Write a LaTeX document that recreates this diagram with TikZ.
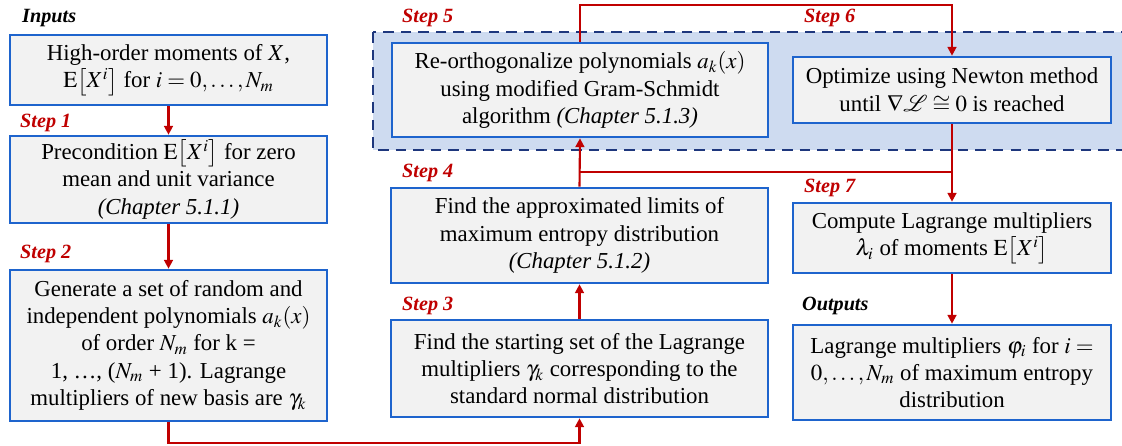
\documentclass[tikz,border=0pt]{standalone}
\usepackage{mathptmx}
\usepackage{fontspec}
\setmainfont{Liberation Serif}
\usetikzlibrary{arrows.meta}
\definecolor{boxblue}{RGB}{30,100,205}
\definecolor{dashblue}{RGB}{30,55,125}
\definecolor{regionblue}{RGB}{206,219,240}
\definecolor{boxgray}{RGB}{242,242,242}
\definecolor{steprd}{RGB}{192,0,0}
\tikzset{
  box/.style={draw=boxblue,line width=1.5pt,fill=boxgray,align=center,inner sep=2pt,
    font=\fontsize{13}{15.6}\selectfont},
  steplabel/.style={anchor=west,text=steprd,font=\fontsize{11.5}{13}\selectfont\bfseries\itshape},
  iolabel/.style={anchor=west,font=\fontsize{11.5}{13}\selectfont\bfseries\itshape},
  flow/.style={draw=steprd,line width=1.2pt,-{Triangle[length=5pt,width=5pt]}},
  link/.style={draw=steprd,line width=1.2pt}
}
\begin{document}
\begin{tikzpicture}[x=0.02cm,y=-0.02cm]
	\clip (0,0) rectangle (1122,446);
	\fill[white] (0,0) rectangle (1122,446);
		\draw[dashblue,fill=regionblue,line width=1.5pt,dash pattern=on 6pt off 4pt] (373,32) rectangle (1135,150);
	\node[box,minimum width=6.34cm,minimum height=1.4cm] (inp) at (168.5,70) {High-order moments of $X$,\\ $\mathrm{E}\big[X^i\big]$ for $i=0,\dots,N_m$};
	\node[box,minimum width=6.34cm,minimum height=1.74cm] (s1) at (168.5,179.5) {Precondition $\mathrm{E}\big[X^i\big]$ for zero\\ mean and unit variance\\ \textit{(Chapter 5.1.1)}};
	\node[box,minimum width=6.34cm,minimum height=3.02cm] (s2) at (168.5,345.5) {Generate a set of random and\\ independent polynomials $a_k(x)$\\ of order $N_m$ for k =\\ 1, \dots, ($N_m$ + 1). Lagrange\\ multipliers of new basis are $\gamma_k$};
	\node[box,minimum width=7.54cm,minimum height=1.94cm] (s3) at (579.5,368.5) {Find the starting set of the Lagrange\\ multipliers $\gamma_k$ corresponding to the\\ standard normal distribution};
	\node[box,minimum width=7.54cm,minimum height=1.9cm] (s4) at (579.5,235.5) {Find the approximated limits of\\ maximum entropy distribution\\ \textit{(Chapter 5.1.2)}};
	\node[box,minimum width=7.52cm,minimum height=1.88cm] (s5) at (580,90) {Re-orthogonalize polynomials $a_k(x)$\\ using modified Gram-Schmidt\\ algorithm \textit{(Chapter 5.1.3)}};
	\node[box,minimum width=6.36cm,minimum height=1.32cm] (s6) at (952,90) {Optimize using Newton method\\ until $\nabla\mathcal{L}\cong 0$ is reached};
	\node[box,minimum width=6.36cm,minimum height=1.4cm] (s7) at (952,238) {Compute Lagrange multipliers\\ $\lambda_i$ of moments $\mathrm{E}\big[X^i\big]$};
	\node[box,minimum width=6.36cm,minimum height=1.9cm] (out) at (952,372.5) {Lagrange multipliers $\varphi_i$ for $i=$\\ $0,\dots,N_m$ of maximum entropy\\ distribution};
	\node[iolabel] (linp) at (16,18) {Inputs};
	\node[steplabel] (l1) at (14,123) {Step 1};
	\node[steplabel] (l2) at (14,254) {Step 2};
	\node[steplabel] (l3) at (396,306) {Step 3};
	\node[steplabel] (l4) at (396,173) {Step 4};
	\node[steplabel] (l5) at (396,18) {Step 5};
	\node[steplabel] (l6) at (798,18) {Step 6};
	\node[steplabel] (l7) at (798,188) {Step 7};
	\node[iolabel] (lout) at (796,306) {Outputs};
	\coordinate (bot) at (168.5,443);
	\coordinate (top) at (580,5);
	\coordinate (fork) at (580,172);
	\draw[flow] (inp) -- (s1);
	\draw[flow] (s1) -- (s2);
	\draw[flow] (s2.south) -- (bot) -| (s3.south);
	\draw[flow] (s3) -- (s4);
	\draw[flow] (s4.north) -- (s5.south);
	\draw[link] (fork) -| (s6.south);
	\draw[flow] (s5.north) -- (top) -| (s6.north);
	\draw[flow] (s6.south) -- (s7.north);
	\draw[flow] (s7) -- (out);
\end{tikzpicture}
\end{document}
